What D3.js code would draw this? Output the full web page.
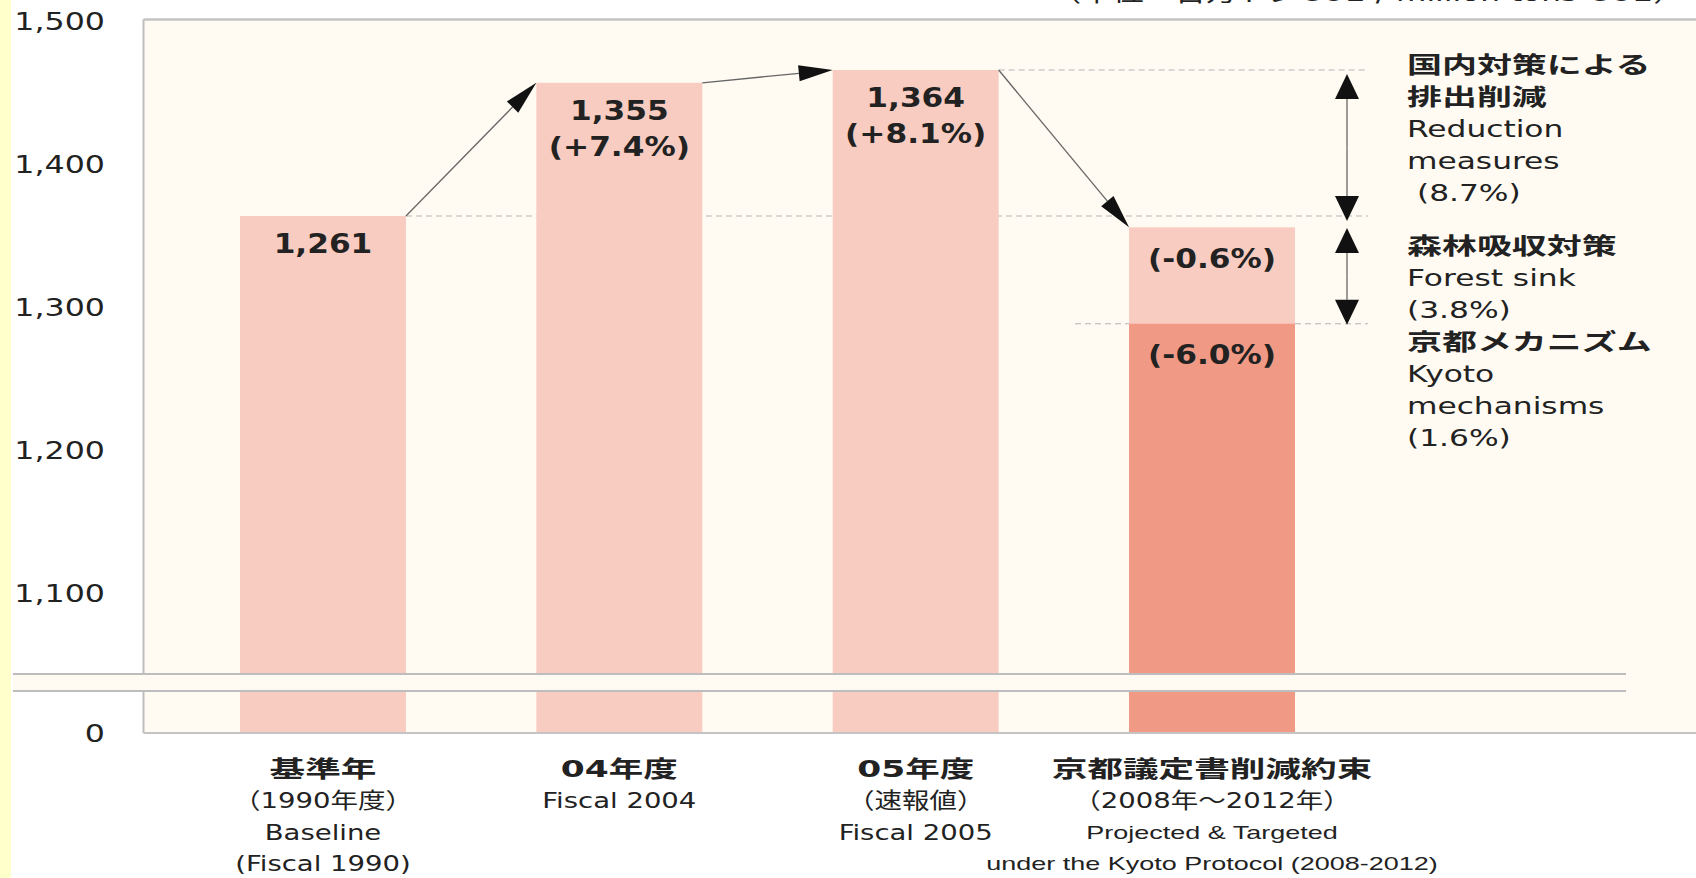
<!DOCTYPE html>
<html>
<head>
<meta charset="utf-8">
<script src="https://cdn.jsdelivr.net/npm/d3@7"></script>
<style>
  html, body { margin: 0; padding: 0; background: #fff; }
  svg { display: block; }
</style>
</head>
<body>
<div id="chart"></div>
<script>
(function () {

  'use strict';

  const WIDTH = 1696;
  const HEIGHT = 878;
  const FONT = "'DejaVu Sans', 'Noto Sans CJK JP', sans-serif";
  const FONT_NARROW = "'Liberation Sans', 'Noto Sans CJK JP', sans-serif";
  const TEXT_COLOR = '#222';

  // Data.
  const categories = ['base', 'fy2004', 'fy2005', 'kyoto'];
  const categoryLabels = [
    ['基準年', '（1990年度）', 'Baseline', '(Fiscal 1990)'],
    ['04年度', 'Fiscal 2004'],
    ['05年度', '（速報値）', 'Fiscal 2005'],
    ['京都議定書削減約束', '（2008年～2012年）', 'Projected & Targeted', 'under the Kyoto Protocol (2008-2012)']
  ];
  const emissions = [1261, 1355, 1364];
  const emissionLabels = [['1,261'], ['1,355', '(+7.4%)'], ['1,364', '(+8.1%)']];
  const kyotoValues = [1253, 1185];
  const kyotoLabels = ['(-0.6%)', '(-6.0%)'];
  const tickValues = [1100, 1200, 1300, 1400, 1500];
  const unitLabel = '（単位：百万トンCO2 / million tons CO2）';
  const annotations = [
    ['国内対策による', '排出削減', 'Reduction', 'measures', '\u00a0(8.7%)'],
    ['森林吸収対策', 'Forest sink', '(3.8%)'],
    ['京都メカニズム', 'Kyoto', 'mechanisms', '(1.6%)']
  ];
  const annotationAnchors = [1364, 1261, 1185];
  const reductionSpans = [[1364, 1261], [1261, 1185]];

  // Layout.
  let plot = {left: 143.5, top: 19.5, right: WIDTH, bottom: 733};
  let brk = {left: 13, right: 1626, top: 674, bottom: 691};

  let svg = d3.select('#chart')
    .append('svg')
    .attr('width', WIDTH)
    .attr('height', HEIGHT)
    .style('font-family', FONT);

  let x = d3.scaleBand()
    .domain(categories)
    .range([240, 1295])
    .paddingInner(0.44)
    .paddingOuter(0);

  // Bars and the tick labels do not share a scale in the original figure.
  let yBar = d3.scaleLinear()
    .domain([1100, 1400])
    .range([444.2, 19]);

  let yAxis = d3.scaleLinear()
    .domain([1100, 1500])
    .range([594, 22]);

  let isCjk = function (s) {
    return !/[A-Za-z0-9（）()]/.test(s);
  };

  // Text with the horizontal stretch of the reference lettering.
  let label = function (g, s, px, py, o) {
    return g.append('text')
      .attr('transform', 'translate(' + px + ',' + py + ') scale(' + (o.sx || 1.3) + ',1)')
      .attr('dy', '0.36em')
      .attr('text-anchor', o.anchor || 'middle')
      .style('font-family', o.font || FONT)
      .style('font-size', (o.size || 23) + 'px')
      .style('font-weight', o.weight || 'normal')
      .style('fill', TEXT_COLOR)
      .style('white-space', 'pre')
      .text(s);
  };

  let arrow = function (g, x1, y1, x2, y2, len, half) {
    let a = Math.atan2(y2 - y1, x2 - x1);
    let bx = x2 - len * Math.cos(a);
    let by = y2 - len * Math.sin(a);
    let px = -Math.sin(a) * half;
    let py = Math.cos(a) * half;
    g.append('line')
      .attr('x1', x1).attr('y1', y1)
      .attr('x2', bx).attr('y2', by)
      .style('stroke', '#666')
      .style('stroke-width', 1.3);
    g.append('path')
      .attr('d', 'M' + x2 + ',' + y2 + 'L' + (bx + px) + ',' + (by + py) + 'L' + (bx - px) + ',' + (by - py) + 'Z')
      .style('fill', '#111');
  };

  // Left stripe and plot background.
  svg.append('rect')
    .attr('x', 0).attr('y', 0)
    .attr('width', 11).attr('height', HEIGHT)
    .style('fill', '#ffffcc');

  svg.append('rect')
    .attr('x', plot.left).attr('y', plot.top)
    .attr('width', plot.right - plot.left)
    .attr('height', plot.bottom - plot.top)
    .style('fill', '#fffbf2');

  // Dashed guides.
  let guides = [
    {v: emissions[0], x1: x(categories[0]) + x.bandwidth(), x2: 1368},
    {v: emissions[2], x1: x(categories[2]) + x.bandwidth(), x2: 1368},
    {v: kyotoValues[1], x1: 1075, x2: 1368}
  ];
  svg.append('g')
    .selectAll('line')
    .data(guides)
    .enter()
    .append('line')
    .attr('x1', function (d) { return d.x1; })
    .attr('x2', function (d) { return d.x2; })
    .attr('y1', function (d) { return yBar(d.v); })
    .attr('y2', function (d) { return yBar(d.v); })
    .style('stroke', '#b5b5b5')
    .style('stroke-width', 1.2)
    .style('stroke-dasharray', '6,4');

  // Bars.
  let bars = svg.append('g');
  bars.selectAll('rect.past')
    .data(emissions)
    .enter()
    .append('rect')
    .attr('class', 'past')
    .attr('x', function (d, i) { return x(categories[i]); })
    .attr('y', function (d) { return yBar(d); })
    .attr('width', x.bandwidth())
    .attr('height', function (d) { return plot.bottom - yBar(d); })
    .style('fill', '#f8ccc0');

  bars.selectAll('rect.kyoto')
    .data(kyotoValues)
    .enter()
    .append('rect')
    .attr('class', 'kyoto')
    .attr('x', x(categories[3]))
    .attr('y', function (d) { return yBar(d); })
    .attr('width', x.bandwidth())
    .attr('height', function (d) { return plot.bottom - yBar(d); })
    .style('fill', function (d, i) { return i === 0 ? '#f8ccc0' : '#f09985'; });

  // Frame.
  svg.append('line')
    .attr('x1', plot.left).attr('x2', plot.right)
    .attr('y1', plot.top).attr('y2', plot.top)
    .style('stroke', '#c4c4c4').style('stroke-width', 2.5);
  svg.append('line')
    .attr('x1', plot.left).attr('x2', plot.left)
    .attr('y1', plot.top).attr('y2', plot.bottom)
    .style('stroke', '#bdbdbd').style('stroke-width', 2);
  svg.append('line')
    .attr('x1', plot.left).attr('x2', plot.right)
    .attr('y1', plot.bottom).attr('y2', plot.bottom)
    .style('stroke', '#c4c4c4').style('stroke-width', 2);

  // Axis break.
  svg.append('rect')
    .attr('x', brk.left).attr('y', brk.top)
    .attr('width', brk.right - brk.left)
    .attr('height', brk.bottom - brk.top)
    .style('fill', '#fffbf2');
  svg.selectAll('line.brk')
    .data([brk.top, brk.bottom])
    .enter()
    .append('line')
    .attr('class', 'brk')
    .attr('x1', brk.left).attr('x2', brk.right)
    .attr('y1', function (d) { return d; })
    .attr('y2', function (d) { return d; })
    .style('stroke', '#bdbdbd')
    .style('stroke-width', 2);

  // Y axis labels.
  let axis = svg.append('g')
    .attr('transform', 'translate(105,0)')
    .call(d3.axisLeft(yAxis).tickValues(tickValues).tickSize(0).tickPadding(0).tickFormat(d3.format(',')));
  axis.select('.domain').remove();
  axis.selectAll('text')
    .attr('transform', 'scale(1.32,1)')
    .style('font-family', FONT)
    .style('font-size', '24px')
    .style('fill', TEXT_COLOR);
  label(svg, '0', 105, plot.bottom, {anchor: 'end', size: 24, sx: 1.32});

  // Value labels inside bars.
  emissionLabels.forEach(function (lines, i) {
    let cx = x(categories[i]) + x.bandwidth() / 2;
    lines.forEach(function (s, j) {
      label(svg, s, cx, yBar(emissions[i]) + 28 + j * 36, {size: 26, weight: 'bold', sx: 1.2});
    });
  });
  kyotoLabels.forEach(function (s, i) {
    let cx = x(categories[3]) + x.bandwidth() / 2;
    label(svg, s, cx, yBar(kyotoValues[i]) + 31, {size: 26, weight: 'bold', sx: 1.2});
  });

  // Arrows between bars.
  let tops = emissions.concat([kyotoValues[0]]);
  let arrows = svg.append('g');
  for (let i = 0; i < tops.length - 1; i++) {
    arrow(arrows,
      x(categories[i]) + x.bandwidth(), yBar(tops[i]),
      x(categories[i + 1]), yBar(tops[i + 1]),
      34, 8);
  }

  // Reduction breakdown arrows.
  let spanX = 1347;
  reductionSpans.forEach(function (span, i) {
    let y1 = yBar(span[0]) + (i === 0 ? 4 : 12);
    let y2 = yBar(span[1]) + (i === 0 ? 5 : 1);
    let mid = (y1 + y2) / 2;
    arrow(arrows, spanX, mid, spanX, y1, 25, 12);
    arrow(arrows, spanX, mid, spanX, y2, 25, 12);
  });

  // Annotation text on the right.
  let annotationOffsets = [-5, 30, 18];
  annotations.forEach(function (lines, i) {
    let y0 = yBar(annotationAnchors[i]) + annotationOffsets[i];
    lines.forEach(function (s, j) {
      let cjk = isCjk(s);
      label(svg, s, 1407, y0 + j * 32, {
        anchor: 'start',
        size: 23,
        weight: cjk ? 'bold' : 'normal',
        sx: cjk ? 1.52 : 1.36
      });
    });
  });

  // Category labels.
  categoryLabels.forEach(function (lines, i) {
    let cx = x(categories[i]) + x.bandwidth() / 2;
    lines.forEach(function (s, j) {
      let narrow = i === 3 && j > 1;
      let opts = {size: 22, sx: 1.25};
      if (j === 0) {
        opts = {size: 23, weight: 'bold', sx: isCjk(s) ? 1.55 : 1.5};
      }
      else if (narrow) {
        opts = {size: 19, sx: 1.42, font: FONT_NARROW};
      }
      label(svg, s, cx, 769 + j * 31.5, opts);
    });
  });

  // Unit label, cut by the top edge.
  label(svg, unitLabel, 1050, -8, {anchor: 'start', size: 24, sx: 1.3});

}());
</script>
</body>
</html>
